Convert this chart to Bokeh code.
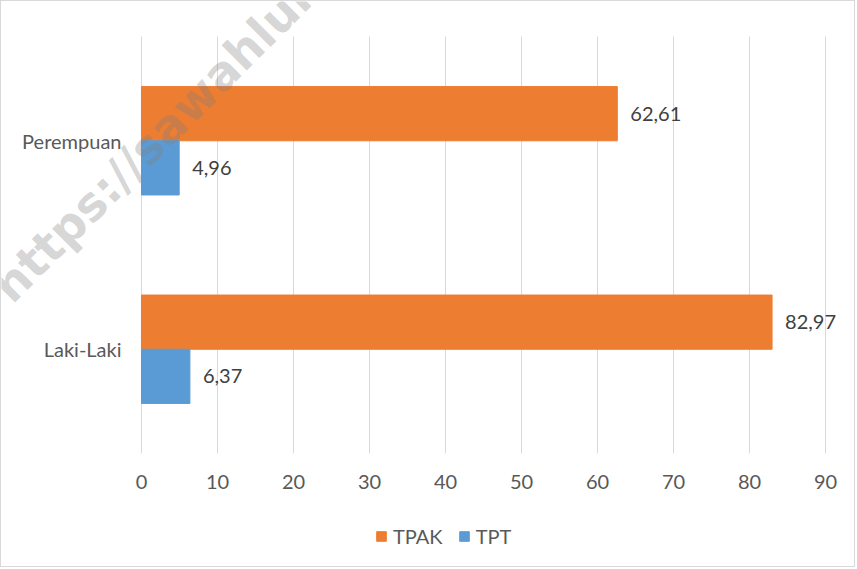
from bokeh.plotting import figure
from bokeh.models import (Range1d, ColumnDataSource, LabelSet, Legend,
                          LegendItem, Label)
from bokeh.core.properties import value
from bokeh.transform import dodge
from bokeh.embed import file_html
from bokeh.resources import INLINE

categories = ["Laki-Laki", "Perempuan"]
tpak = [82.97, 62.61]
tpt = [6.37, 4.96]
x_ticks = [0, 10, 20, 30, 40, 50, 60, 70, 80, 90]
x_tick_labels = [str(t) for t in x_ticks]

FONT = "Lato"
TXT = "#595959"

def fmt(v):
    return f"{v:.2f}".replace(".", ",")

ypos = [i + 0.5 for i in range(len(categories))]
src = ColumnDataSource(dict(
    cat=categories, y=ypos, tpak=tpak, tpt=tpt,
    tpak_lbl=[fmt(v) for v in tpak], tpt_lbl=[fmt(v) for v in tpt],
))
tick_src = ColumnDataSource(dict(x=x_ticks, y=[0] * len(x_ticks),
                                 lbl=x_tick_labels))

p = figure(width=855, height=567, y_range=Range1d(-0.5516, 2.168),
           x_range=Range1d(-18.42, 94.08), output_backend="svg",
           toolbar_location=None, min_border=0)
p.axis.visible = False
p.styles = {"border": "1px solid #d9d9d9"}
p.outline_line_color = None
p.background_fill_color = "white"
p.border_fill_color = "white"
p.xgrid.grid_line_color = None
p.ygrid.grid_line_color = None

# vertical gridlines over the plot area
p.segment(x0=x_ticks, x1=x_ticks, y0=0, y1=len(categories),
          line_color="#d9d9d9", line_width=1)

r1 = p.hbar(y=dodge("y", 0.13), right="tpak", left=0,
            height=0.26, color="#ED7D31", source=src)
r2 = p.hbar(y=dodge("y", -0.13), right="tpt", left=0,
            height=0.26, color="#5B9BD5", source=src)

for col, off in (("tpak", 0.13), ("tpt", -0.13)):
    p.add_layout(LabelSet(x=col, y=dodge("y", off), text=col + "_lbl",
                          source=src, x_offset=13, text_baseline="middle",
                          text_font=value(FONT), text_font_size="20px",
                          text_color="#404040"))

# category labels
p.add_layout(LabelSet(x=0, y="y", text="cat", source=src, x_offset=-20,
                      text_align="right", text_baseline="middle",
                      text_font=value(FONT), text_font_size="20px",
                      text_color=TXT))

# value-axis tick labels
p.add_layout(LabelSet(x="x", y="y", text="lbl", source=tick_src,
                      y_offset=-29, text_align="center",
                      text_baseline="middle", text_font=value(FONT),
                      text_font_size="20px", text_color=TXT))

legend = Legend(items=[LegendItem(label="TPAK", renderers=[r1]),
                       LegendItem(label="TPT", renderers=[r2])],
                orientation="horizontal", location=(374, 20),
                glyph_width=12, glyph_height=12, label_standoff=6, spacing=15,
                padding=0, margin=0, border_line_color=None,
                background_fill_alpha=0, label_text_font=FONT,
                label_text_font_size="20px", label_text_color=TXT)
p.add_layout(legend, "center")

wm = Label(x=-18.55, y=0.767, text="https://sawahlunto", angle=45,
           angle_units="deg", text_font="DejaVu Sans", text_font_style="bold",
           text_font_size="47px", text_color="#7f7f7f", text_alpha=0.33,
           text_baseline="middle")
p.add_layout(wm)

open("out.html", "w").write(file_html(p, INLINE))
